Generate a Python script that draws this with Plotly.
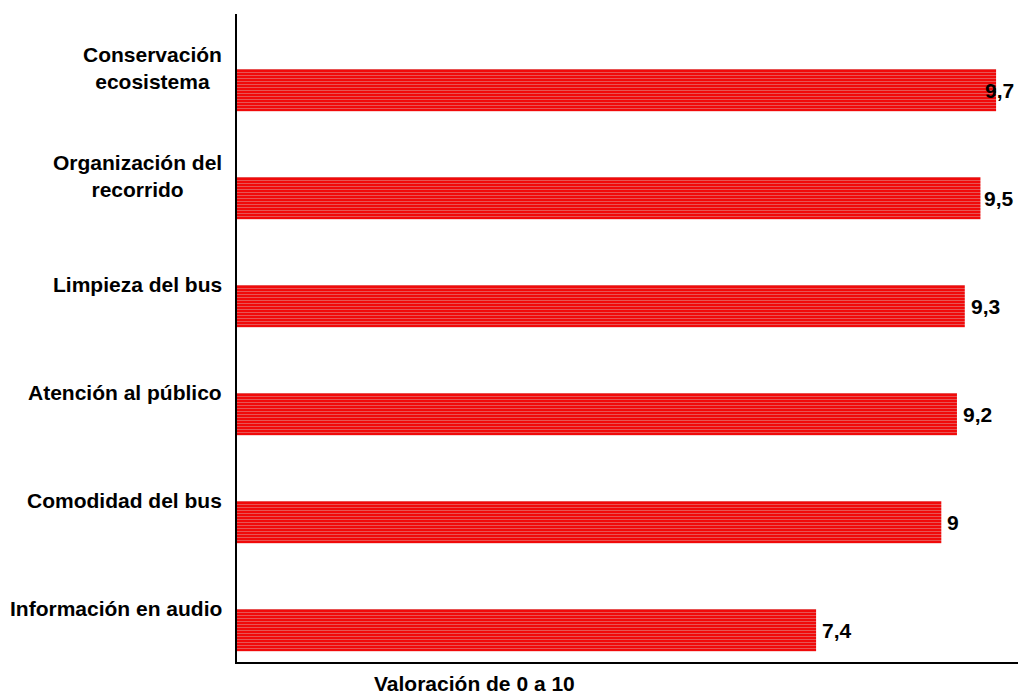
import plotly.graph_objects as go

# Categories listed bottom to top
categorias = [
    "Información en audio",
    "Comodidad del bus",
    "Atención al público",
    "Limpieza del bus",
    "Organización del<br>recorrido",
    "Conservación<br>ecosistema",
]
valores = [7.4, 9.0, 9.2, 9.3, 9.5, 9.7]
etiquetas = ["7,4", "9", "9,2", "9,3", "9,5", "9,7"]

FONT = "Liberation Sans, Arial, sans-serif"
FS = 21
W, H = 1018, 699
ML, MR, MT, MB = 237, 0, 14, 37
XMAX = 9.98

BAR_W = 0.39
BAR_OFF = -0.40

fig = go.Figure()
fig.add_trace(go.Bar(
    x=valores,
    y=list(range(len(categorias))),
    orientation="h",
    width=BAR_W,
    offset=BAR_OFF,
    marker=dict(
        color="#f00a0a",
        line=dict(width=0),
        pattern=dict(shape="-", fillmode="replace", bgcolor="#f00a0a",
                     fgcolor="#e65c5c", size=3, solidity=0.3),
    ),
    hoverinfo="skip",
))

annotations = []
# category labels to the left of the axis
for i, cat in enumerate(categorias):
    annotations.append(dict(
        x=0, xref="paper", y=i, yref="y", text=f"<b>{cat}</b>", showarrow=False,
        xanchor="right", yanchor="middle", align="center", xshift=-13,
        font=dict(family=FONT, size=FS, color="#000000"),
    ))

# value labels next to each bar end
px_per_unit = (W - ML - MR) / XMAX
for i, (v, t) in enumerate(zip(valores, etiquetas)):
    y_mid = i + BAR_OFF + BAR_W / 2
    end_px = ML + v * px_per_unit
    text_w = 11 * len(t)
    if end_px + 6 + text_w > W:
        annotations.append(dict(
            x=1, xref="paper", y=y_mid, yref="y", text=f"<b>{t}</b>",
            showarrow=False, xanchor="right", yanchor="middle", xshift=-2,
            font=dict(family=FONT, size=FS, color="#000000"),
        ))
    else:
        annotations.append(dict(
            x=v, xref="x", y=y_mid, yref="y", text=f"<b>{t}</b>",
            showarrow=False, xanchor="left", yanchor="middle", xshift=4,
            font=dict(family=FONT, size=FS, color="#000000"),
        ))

# axis title
annotations.append(dict(
    x=(474 - ML) / (W - ML - MR), xref="paper", y=0, yref="paper",
    text="<b>Valoración de 0 a 10</b>",
    showarrow=False, xanchor="center", yanchor="top", yshift=-8,
    font=dict(family=FONT, size=FS, color="#000000"),
))

fig.update_layout(
    width=W, height=H,
    margin=dict(l=ML, r=MR, t=MT, b=MB, pad=0),
    paper_bgcolor="#ffffff", plot_bgcolor="#ffffff",
    showlegend=False,
    font=dict(family=FONT, size=FS, color="#000000"),
    xaxis=dict(range=[0, XMAX], showgrid=False, zeroline=False,
               showticklabels=False, ticks="", showline=True,
               linecolor="#000000", linewidth=2),
    yaxis=dict(range=[-0.5, len(categorias) - 0.5], showgrid=False,
               zeroline=False, showticklabels=False, ticks="",
               showline=True, linecolor="#000000", linewidth=2),
    annotations=annotations,
)

fig.write_html("out.html")
